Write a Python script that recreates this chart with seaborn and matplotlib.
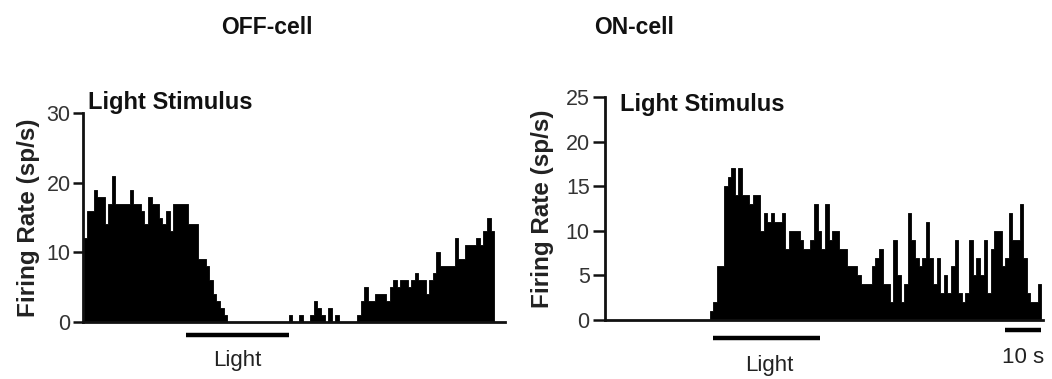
import numpy as np
import pandas as pd
import matplotlib
matplotlib.use("Agg")
import matplotlib.pyplot as plt
import seaborn as sns

# ---------------- data (1 s bins) ----------------
off_rate = [12, 16, 16, 19, 18, 18, 14, 17, 21, 17,
            17, 17, 17, 19, 17, 17, 16, 14, 18, 17,
            17, 15, 14, 16, 13, 17, 17, 17, 17, 14,
            14, 14, 9, 9, 8, 6, 4, 3, 2, 1,
            0, 0, 0, 0, 0, 0, 0, 0, 0, 0,
            0, 0, 0, 0, 0, 0, 0,
            1, 0, 0, 1, 0, 0, 1, 3, 2, 1,
            0, 2, 0, 1, 0, 0, 0, 0, 0,
            1, 3, 5, 3, 3, 4, 4, 4, 3, 5,
            6, 5, 6, 6, 5, 6, 7, 6, 6, 4,
            6, 7, 10, 8, 8, 8, 8, 12, 9, 9,
            11, 11, 11, 12, 11, 13, 15, 13]

on_rate = [0, 0, 0, 0, 0, 0, 0, 0, 0, 0,
           0, 0, 0, 0, 0, 0, 0, 0, 0, 0,
           0, 0, 0, 0, 0, 0, 0, 0, 0,
           1, 2, 6, 6, 15, 16, 17, 14, 17, 14,
           14, 13, 14, 14, 10, 12, 11, 12, 11, 11,
           12, 8, 10, 10, 10, 9, 8, 8, 9, 13,
           10, 8, 13, 9, 10, 10, 8, 8, 6, 6,
           6, 5, 4, 4, 4, 6, 7, 8, 4, 4,
           2, 9, 5, 2, 4, 12, 9, 7, 6, 7,
           11, 7, 4, 7, 3, 5, 3, 6, 9, 3,
           2, 3, 9, 5, 7, 5, 9, 3, 8, 10,
           10, 6, 7, 12, 9, 9, 13, 7, 3, 2,
           2, 4]

off_light = [28.6, 57.2]     # light on / off (s)
on_light = [30.0, 59.7]
scale_bar = [111.0, 121.0]   # 10 s
off_yticks = [0, 10, 20, 30]
on_yticks = [0, 5, 10, 15, 20, 25]
titles = ["OFF-cell", "ON-cell"]

# ---------------- style ----------------
sns.set_style("ticks")
plt.rcParams["font.family"] = ["Liberation Sans", "DejaVu Sans"]

W, H = 1052, 379
fig = plt.figure(figsize=(W / 100, H / 100), dpi=100)
ax1 = fig.add_axes([83 / W, 57 / H, 422 / W, 209 / H])
ax2 = fig.add_axes([605 / W, 59 / H, 438 / W, 223 / H])


def draw(ax, rate, xmax, ymax, yticks, ticklen):
    df = pd.DataFrame({"t": np.arange(len(rate)) + 0.5,
                       "rate": np.asarray(rate, dtype=float)})
    sns.histplot(data=df, x="t", weights="rate", binwidth=1,
                 binrange=(0, len(rate)), element="step", fill=True,
                 color="black", alpha=1, linewidth=0.6, ax=ax)
    ax.set_xlim(0, xmax)
    ax.set_ylim(0, ymax)
    ax.set_yticks(yticks)
    ax.set_xticks([])
    ax.set_xlabel("")
    ax.set_ylabel("Firing Rate (sp/s)", fontsize=17.5, fontweight="bold",
                  color="#222222")
    for s in ["top", "right"]:
        ax.spines[s].set_visible(False)
    for s in ["left", "bottom"]:
        ax.spines[s].set_linewidth(2.0)
        ax.spines[s].set_color("#111111")
    ax.tick_params(axis="y", direction="out", length=ticklen, width=1.8,
                   labelsize=15.5, pad=2, colors="#111111",
                   labelcolor="#333333")
    ax.patch.set_alpha(0)


draw(ax1, off_rate, 117, 30, off_yticks, 7)
draw(ax2, on_rate, 121.5, 25, on_yticks, 9)
ax1.yaxis.set_label_coords(-0.102, 0.5)
ax2.yaxis.set_label_coords(-0.117, 0.5)

# light bars and scale bar
tr1 = ax1.get_xaxis_transform()
ax1.plot(off_light, [-0.062, -0.062], color="black", lw=3.2,
         transform=tr1, clip_on=False, solid_capstyle="butt")
ax1.text(np.mean(off_light), -0.182, "Light", transform=tr1, ha="center",
         va="center", fontsize=16, color="#222222")

tr2 = ax2.get_xaxis_transform()
ax2.plot(on_light, [-0.081, -0.081], color="black", lw=3.2,
         transform=tr2, clip_on=False, solid_capstyle="butt")
ax2.text(np.mean(on_light) + 0.8, -0.202, "Light", transform=tr2,
         ha="center", va="center", fontsize=16, color="#222222")
ax2.plot(scale_bar, [-0.045, -0.045], color="black", lw=3.2,
         transform=tr2, clip_on=False, solid_capstyle="butt")
ax2.text(np.mean(scale_bar), -0.166, "10 s", transform=tr2, ha="center",
         va="center", fontsize=16, color="#222222")

# titles and annotations
fig.text(267 / W, 1 - 28 / H, titles[0], ha="center", va="center",
         fontsize=16.5, fontweight="bold", color="#111111")
fig.text(634 / W, 1 - 28 / H, titles[1], ha="center", va="center",
         fontsize=16.5, fontweight="bold", color="#111111")
fig.text(88 / W, 1 - 103 / H, "Light Stimulus", ha="left", va="center",
         fontsize=17, fontweight="bold", color="#111111")
fig.text(620 / W, 1 - 105 / H, "Light Stimulus", ha="left", va="center",
         fontsize=17, fontweight="bold", color="#111111")

fig.savefig("out.png", dpi=100, facecolor="white")
